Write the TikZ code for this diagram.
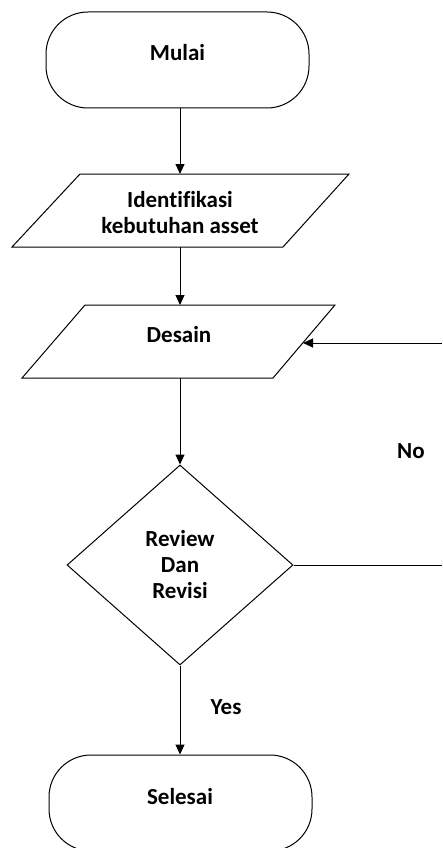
\documentclass[tikz,border=0pt]{standalone}
\usepackage{fontspec}
\setmainfont[Ligatures=NoCommon]{Carlito}
\usetikzlibrary{shapes.geometric,arrows.meta}
\begin{document}
\begin{tikzpicture}[x=1pt,y=-1pt,line width=1pt,
  shp/.style={draw,line width=1pt},
  term/.style={draw,rectangle,rounded corners=42pt,minimum width=263pt,minimum height=96pt,inner sep=0pt},
  dec/.style={draw,diamond,minimum width=226pt,minimum height=200pt,inner sep=0pt},
  lbl/.style={font=\bfseries\fontsize{23}{26}\selectfont,align=center,inner sep=0pt},
  arr/.style={-{Triangle[length=10pt,width=9pt]},line width=1pt}]
\useasboundingbox (0,0) rectangle (442,848);
% start
\node[term] (mulai) at (177.5,60) {};
\node[lbl] (tmulai) at (177.5,53) {Mulai};
% input 1
\draw[shp] (80,174) -- (349,174) -- (283,247) -- (12,247) -- cycle;
\coordinate (ident-n) at (180,174);
\coordinate (ident-s) at (180,247);
\node[lbl] (tident) at (180,213) {Identifikasi\\kebutuhan asset};
% input 2
\draw[shp] (85,305) -- (335,305) -- (273,378) -- (22,378) -- cycle;
\coordinate (desain-n) at (180,305);
\coordinate (desain-s) at (180,378);
\coordinate (desain-e) at (303,343);
\node[lbl] (tdesain) at (179,335) {Desain};
% decision
\node[dec] (review) at (180,565) {};
\node[lbl] (treview) at (180,565) {Review\\Dan\\Revisi};
% end
\node[term] (selesai) at (180.5,803) {};
\node[lbl] (tselesai) at (180,797) {Selesai};
% loop ends
\coordinate (loopin) at (442,343);
\coordinate (loopout) at (442,565);
% connectors
\draw[arr] (mulai.south -| ident-n) -- (ident-n);
\draw[arr] (ident-s) -- (desain-n);
\draw[arr] (desain-s) -- (review.north);
\draw[arr] (review.south) -- (selesai.north -| review.south);
\draw (review.east) -- (loopout);
\draw[arr] (loopin) -- (desain-e);
% labels
\node[lbl] (no) at (411,451) {No};
\node[lbl] (yes) at (226,707) {Yes};
\end{tikzpicture}
\end{document}
